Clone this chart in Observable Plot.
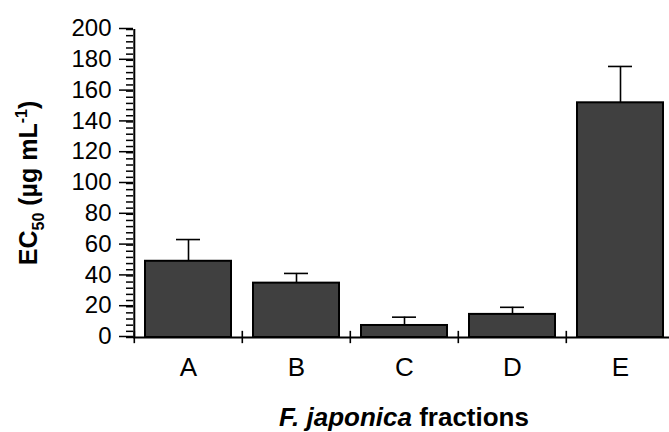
<!DOCTYPE html>
<html><head><meta charset="utf-8">
<script src="https://cdn.jsdelivr.net/npm/d3@7"></script>
<script src="https://cdn.jsdelivr.net/npm/@observablehq/plot@0.6"></script>
<style>body{margin:0;background:#fff;overflow:hidden} svg{display:block}</style>
</head><body><div id="chart"></div>
<script>
const fractions = ["A", "B", "C", "D", "E"];
const ec50 = [49.5, 35.3, 7.8, 15.0, 152.4];
const errors = [14.1, 6.3, 5.4, 4.6, 23.6];
const majorTicks = [0, 20, 40, 60, 80, 100, 120, 140, 160, 180, 200];
const minorTicks = d3.range(0, 201, 4);

const data = fractions.map((f, i) => ({fraction: f, value: ec50[i], err: errors[i]}));
const font = "'Liberation Sans', Arial, Helvetica, sans-serif";
const W = 669, H = 432, mL = 133, mR = -6, mT = 29, mB = 95;
const step = (W - mR - mL) / fractions.length;

const chart = Plot.plot({
  width: W, height: H, marginLeft: mL, marginRight: mR, marginTop: mT, marginBottom: mB,
  style: {fontFamily: font, fontSize: "24px", color: "#000", background: "#fff", overflow: "visible"},
  x: {domain: fractions, paddingInner: 0.2, paddingOuter: 0.1},
  y: {domain: [0, 200]},
  marks: [
    Plot.ruleX(data, {x: "fraction", y1: "value", y2: d => d.value + d.err, stroke: "#000", strokeWidth: 1.6}),
    Plot.tickY(data, {x: "fraction", y: d => d.value + d.err, insetLeft: 31, insetRight: 31, stroke: "#000", strokeWidth: 1.6}),
    Plot.barY(data, {x: "fraction", y: "value", fill: "#404040", stroke: "#000", strokeWidth: 2}),
    Plot.axisY(minorTicks, {tickSize: 7, tickFormat: () => "", label: null, strokeWidth: 1.5}),
    Plot.axisY(majorTicks, {tickSize: 14, tickPadding: 8, label: null, strokeWidth: 1.5, fontSize: 24, dy: -1}),
    Plot.axisX({tickSize: 0, tickPadding: 20, label: null, fontSize: 26}),
    Plot.ruleX(fractions, {x: d => d, dx: -step / 2, y1: -4, y2: 4, stroke: "#000", strokeWidth: 1.6}),
    Plot.ruleX(["A"], {x: d => d, dx: -step / 2, y1: 0, y2: 200, stroke: "#000", strokeWidth: 2}),
    Plot.ruleY([0], {stroke: "#000", strokeWidth: 2})
  ]
});

const svg = d3.select(chart);
const yt = svg.append("text")
  .attr("transform", `translate(37,${(mT + (H - mB)) / 2}) rotate(-90)`)
  .attr("text-anchor", "middle")
  .attr("font-family", font).attr("font-weight", "bold").attr("font-size", 25).attr("fill", "#000");
yt.append("tspan").text("EC");
yt.append("tspan").attr("font-size", 16).attr("dy", 7).text("50");
yt.append("tspan").attr("dy", -7).text(" (µg mL");
yt.append("tspan").attr("font-size", 16).attr("dy", -10).text("-1");
yt.append("tspan").attr("dy", 10).text(")");

const xt = svg.append("text")
  .attr("x", (mL + W - mR) / 2).attr("y", 426)
  .attr("text-anchor", "middle")
  .attr("font-family", font).attr("font-weight", "bold").attr("font-size", 26).attr("fill", "#000");
xt.append("tspan").attr("font-style", "italic").text("F. japonica");
xt.append("tspan").text(" fractions");

document.getElementById("chart").appendChild(chart);
</script>
</body></html>
